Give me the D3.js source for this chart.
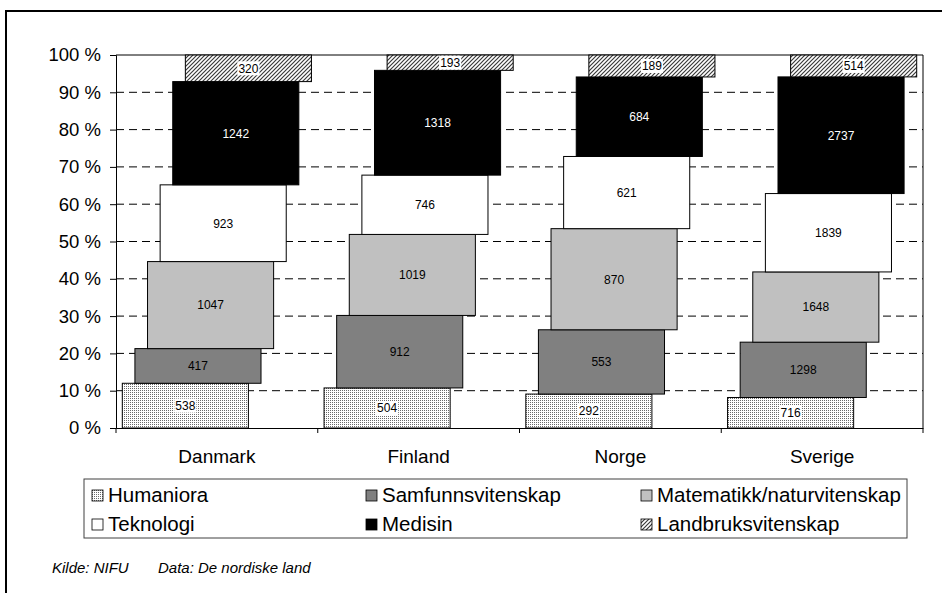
<!DOCTYPE html>
<html><head><meta charset="utf-8">
<script src="https://cdn.jsdelivr.net/npm/d3@7"></script>
<style>
html,body{margin:0;padding:0;background:#fff;}
text{font-family:"Liberation Sans",Arial,sans-serif;font-weight:normal;}
</style></head>
<body>
<svg id="chart" width="942" height="593"></svg>
<script>
const categories = ["Danmark","Finland","Norge","Sverige"];
const seriesNames = ["Humaniora","Samfunnsvitenskap","Matematikk/naturvitenskap","Teknologi","Medisin","Landbruksvitenskap"];
const humaniora = [538,504,292,716];
const samfunnsvitenskap = [417,912,553,1298];
const matematikk = [1047,1019,870,1648];
const teknologi = [923,746,621,1839];
const medisin = [1242,1318,684,2737];
const landbruk = [320,193,189,514];
const yTickValues = [0,10,20,30,40,50,60,70,80,90,100];
const sourceText = ["Kilde: NIFU","Data: De nordiske land"];

const seriesValues = [humaniora,samfunnsvitenskap,matematikk,teknologi,medisin,landbruk];
const rows = categories.map((c,i)=>{const o={cat:c};seriesNames.forEach((s,j)=>o[s]=seriesValues[j][i]);return o;});

const svg = d3.select("#chart");
const defs = svg.append("defs");
// dotted pattern (Humaniora)
const p1 = defs.append("pattern").attr("id","pDots").attr("width",2).attr("height",2).attr("patternUnits","userSpaceOnUse");
p1.append("rect").attr("width",2).attr("height",2).attr("fill","#fff");
p1.append("rect").attr("width",1).attr("height",1).attr("fill","#6a6a6a");
// diagonal hatch (Landbruk)
const p2 = defs.append("pattern").attr("id","pHatch").attr("width",4).attr("height",4).attr("patternUnits","userSpaceOnUse");
p2.append("rect").attr("width",4).attr("height",4).attr("fill","#fff");
p2.append("path").attr("d","M-1,1 L1,-1 M0,4 L4,0 M3,5 L5,3").attr("stroke","#3a3a3a").attr("stroke-width",1.2);

const fills = ["url(#pDots)","#808080","#c0c0c0","#ffffff","#000000","url(#pHatch)"];
const labelColors = ["#000","#000","#000","#000","#fff","#000"];
const labelBg = [true,false,false,false,false,true];

// outer frame
svg.append("rect").attr("x",6).attr("y",11).attr("width",1000).attr("height",1000)
  .attr("fill","none").attr("stroke","#000").attr("stroke-width",2);

const plot = {left:116,right:923,top:55,bottom:428};
const x = d3.scaleBand().domain(categories).range([plot.left,plot.right]).padding(0);
const y = d3.scaleLinear().domain([0,1]).range([plot.bottom,plot.top]);
const barW = x.bandwidth()/1.6;
const shift = d3.scaleLinear().domain([0,1]).range([barW*0.05, barW*0.05+barW*0.1]);

// gridlines
svg.append("g").selectAll("line").data(yTickValues.filter(v=>v>0&&v<100)).join("line")
  .attr("x1",plot.left).attr("x2",plot.right)
  .attr("y1",d=>y(d/100)).attr("y2",d=>y(d/100))
  .attr("stroke","#000").attr("stroke-width",1).attr("stroke-dasharray","8,5");

// plot frame top/right
svg.append("line").attr("x1",plot.left).attr("x2",plot.right).attr("y1",y(1)).attr("y2",y(1)).attr("stroke","#000");
svg.append("line").attr("x1",plot.right).attr("x2",plot.right).attr("y1",y(1)).attr("y2",y(0)).attr("stroke","#000");

const stack = d3.stack().keys(seriesNames).offset(d3.stackOffsetExpand);
const stacked = stack(rows);

const gBars = svg.append("g");
stacked.forEach((ser,si)=>{
  const g = gBars.append("g");
  g.selectAll("rect").data(ser).join("rect")
    .attr("x",d=>x(d.data.cat)+shift(si))
    .attr("y",d=>y(d[1]))
    .attr("width",barW)
    .attr("height",d=>y(d[0])-y(d[1]))
    .attr("fill",fills[si]).attr("stroke","#000").attr("stroke-width",1);
});
// labels
stacked.forEach((ser,si)=>{
  const g = gBars.append("g");
  ser.forEach(d=>{
    const cx = x(d.data.cat)+shift(si)+barW/2;
    const cy = (y(d[0])+y(d[1]))/2;
    const t = String(d.data[ser.key]);
    if(labelBg[si]){
      const w = t.length*6.7+2;
      g.append("rect").attr("x",cx-w/2).attr("y",cy-7).attr("width",w).attr("height",14).attr("fill","#fff");
    }
    g.append("text").attr("x",cx).attr("y",cy).attr("dy","0.36em").attr("text-anchor","middle")
      .attr("font-size",12).attr("fill",labelColors[si]).text(t);
  });
});

// y axis
const yAxis = d3.axisLeft(y).tickValues(yTickValues.map(v=>v/100)).tickFormat(d=>Math.round(d*100)+" %").tickSize(6).tickPadding(9);
const gy = svg.append("g").attr("transform",`translate(${plot.left},0)`).call(yAxis);
gy.select(".domain").attr("stroke","#000");
gy.selectAll(".tick line").attr("stroke","#000");
gy.selectAll("text").attr("font-size",18.5).attr("fill","#000").style("font-family",'"Liberation Sans",Arial,sans-serif');

// x axis
const xAxis = d3.axisBottom(x).tickSize(0).tickPadding(22);
const gx = svg.append("g").attr("transform",`translate(0,${plot.bottom})`).call(xAxis);
gx.select(".domain").attr("stroke","#000");
gx.selectAll("text").attr("font-size",19).attr("fill","#000").style("font-family",'"Liberation Sans",Arial,sans-serif');
const bounds = categories.map(c=>x(c)).concat([x.range()[1]]);
gx.selectAll(".btick").data(bounds).join("line").attr("class","btick")
  .attr("x1",d=>d).attr("x2",d=>d).attr("y1",0).attr("y2",5).attr("stroke","#000");

// legend
const lg = svg.append("g");
lg.append("rect").attr("x",84).attr("y",479).attr("width",823).attr("height",59)
  .attr("fill","#fff").attr("stroke","#404040").attr("stroke-width",1);
const colX = [92,366,641], rowY = [490,519];
seriesNames.forEach((s,i)=>{
  const cx = colX[i%3], cy = rowY[Math.floor(i/3)];
  lg.append("rect").attr("x",cx).attr("y",cy).attr("width",11).attr("height",11)
    .attr("fill",fills[i]).attr("stroke","#000").attr("stroke-width",0.8);
  lg.append("text").attr("x",cx+16).attr("y",cy+11.5).attr("font-size",20.5).attr("fill","#000").text(s);
});

// source
svg.append("text").attr("x",52).attr("y",573).attr("font-size",15).attr("font-style","italic").text(sourceText[0]);
svg.append("text").attr("x",158).attr("y",573).attr("font-size",15).attr("font-style","italic").text(sourceText[1]);
</script>
</body></html>
